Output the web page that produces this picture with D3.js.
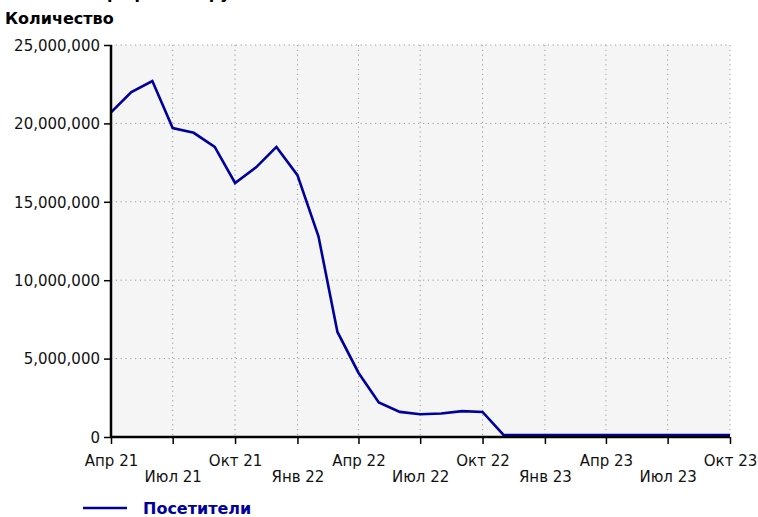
<!DOCTYPE html>
<html>
<head>
<meta charset="utf-8">
<script src="https://cdn.jsdelivr.net/npm/d3@7"></script>
<style>
  body { margin: 0; background: #fff; }
  svg { display: block; font-family: 'DejaVu Sans', sans-serif; }
  .grid line { stroke: #9a9a9a; stroke-dasharray: 1.2,3.6; }
</style>
</head>
<body>
<div id="chart"></div>
<script>
// monthly visitors, Apr 2021 .. Oct 2023
const months = d3.timeMonths(new Date(2021, 3, 1), new Date(2023, 10, 1));
const visitors = [
  20700000, 22000000, 22700000, 19700000, 19400000, 18500000, 16200000, 17200000,
  18500000, 16700000, 12800000, 6700000, 4100000, 2200000, 1600000, 1450000,
  1500000, 1650000, 1600000, 130000, 130000, 130000, 130000, 130000,
  130000, 130000, 130000, 130000, 130000, 130000, 130000
];
const yTicks = [0, 5000000, 10000000, 15000000, 20000000, 25000000];
const monthNames = ['Янв', 'Фев', 'Мар', 'Апр', 'Май', 'Июн', 'Июл', 'Авг', 'Сен', 'Окт', 'Ноя', 'Дек'];
const seriesName = 'Посетители';

const W = 758, H = 517;
const margin = {top: 45, right: 28, bottom: 80, left: 111};
const width = W - margin.left - margin.right;
const height = H - margin.top - margin.bottom;

const data = months.map((d, i) => ({date: d, value: visitors[i]}));

const svg = d3.select('#chart').append('svg')
  .attr('width', W)
  .attr('height', H);

// chart title, cut off at the top edge like in the original
svg.append('text')
  .attr('x', 96).attr('y', -1)
  .attr('font-weight', 'bold').attr('font-size', 16)
  .text('Трафик по группам');

svg.append('text')
  .attr('x', 5).attr('y', 24)
  .attr('font-weight', 'bold').attr('font-size', 16)
  .text('Количество');

const g = svg.append('g').attr('transform', `translate(${margin.left},${margin.top})`);

const x = d3.scaleTime()
  .domain([months[0], months[months.length - 1]])
  .range([0, width]);
const y = d3.scaleLinear()
  .domain([0, 25000000])
  .range([height, 0]);

const xTicks = months.filter(d => d.getMonth() % 3 === 0);

g.append('rect')
  .attr('width', width).attr('height', height)
  .attr('fill', '#f5f5f5');

// grid
g.append('g').attr('class', 'grid')
  .selectAll('line').data(yTicks.slice(1)).enter().append('line')
  .attr('x1', 0).attr('x2', width)
  .attr('y1', d => y(d)).attr('y2', d => y(d));
g.append('g').attr('class', 'grid')
  .selectAll('line').data(xTicks.slice(1)).enter().append('line')
  .attr('x1', d => x(d)).attr('x2', d => x(d))
  .attr('y1', 0).attr('y2', height);

// line
const line = d3.line()
  .x(d => x(d.date))
  .y(d => y(d.value));
g.append('path')
  .datum(data)
  .attr('fill', 'none')
  .attr('stroke', '#00009c')
  .attr('stroke-width', 2.6)
  .attr('stroke-linejoin', 'miter')
  .attr('d', line);

// axes
const yAxis = g.append('g')
  .call(d3.axisLeft(y).tickValues(yTicks).tickSize(7).tickPadding(4).tickFormat(d3.format(',')));
const xAxis = g.append('g')
  .attr('transform', `translate(0,${height})`)
  .call(d3.axisBottom(x).tickValues(xTicks).tickSize(7)
    .tickFormat(d => monthNames[d.getMonth()] + ' ' + String(d.getFullYear()).slice(2)));

[yAxis, xAxis].forEach(a => {
  a.select('.domain').attr('stroke', '#000').attr('stroke-width', 2.5);
  a.selectAll('.tick line').attr('stroke', '#000').attr('stroke-width', 1.5);
  a.selectAll('text').attr('font-family', 'DejaVu Sans').attr('font-size', 15).attr('fill', '#111');
});
yAxis.select('.domain').attr('d', `M0,${height}V0`);
xAxis.select('.domain').attr('d', `M0,0H${width}`);
xAxis.selectAll('.tick text')
  .attr('dy', null)
  .attr('y', (d, i) => i % 2 === 0 ? 29 : 45);
yAxis.selectAll('.tick text').attr('dy', '0.35em');

// legend
const lg = svg.append('g').attr('transform', `translate(83,${H - 9})`);
lg.append('line')
  .attr('x1', 0).attr('x2', 44)
  .attr('stroke', '#00009c').attr('stroke-width', 2.6);
lg.append('text')
  .attr('x', 60).attr('y', 6)
  .attr('font-weight', 'bold').attr('font-size', 16)
  .attr('fill', '#00009c')
  .text(seriesName);
</script>
</body>
</html>
